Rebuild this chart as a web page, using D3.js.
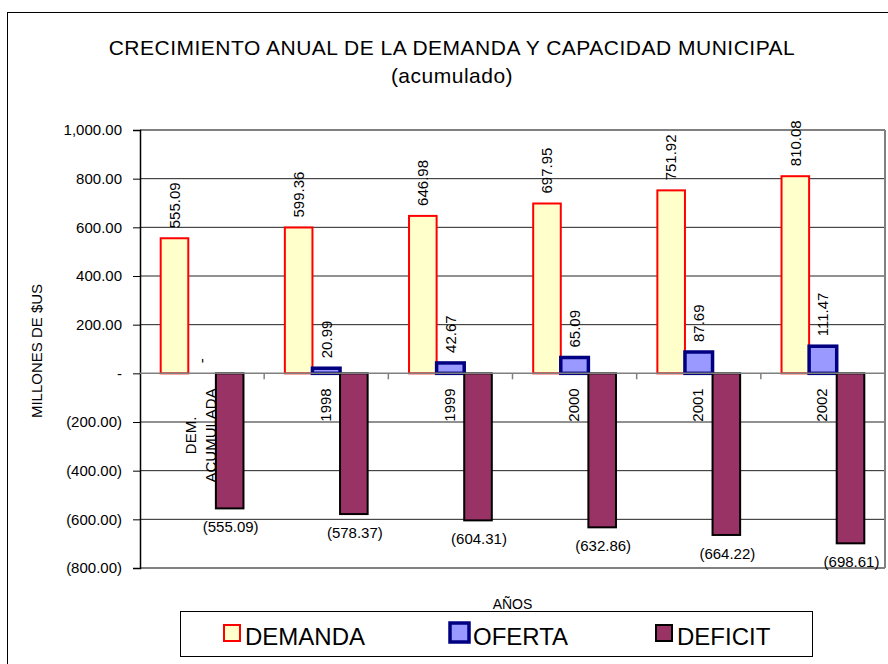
<!DOCTYPE html>
<html>
<head>
<meta charset="utf-8">
<script src="https://cdn.jsdelivr.net/npm/d3@7"></script>
<style>
  body { margin: 0; background: #fff; }
  text { font-family: Arial, "Liberation Sans", sans-serif; fill: #000; }
</style>
</head>
<body>
<div id="chart"></div>
<script>
const categories = ["DEM. ACUMULADA", "1998", "1999", "2000", "2001", "2002"];
const seriesNames = ["DEMANDA", "OFERTA", "DEFICIT"];
const demanda = [555.09, 599.36, 646.98, 697.95, 751.92, 810.08];
const oferta = [0, 20.99, 42.67, 65.09, 87.69, 111.47];
const deficit = [-555.09, -578.37, -604.31, -632.86, -664.22, -698.61];
const yTicks = [1000, 800, 600, 400, 200, 0, -200, -400, -600, -800];

const styles = {
  DEMANDA: { fill: "#ffffcc", stroke: "#ff0000", sw: 2 },
  OFERTA: { fill: "#9999ff", stroke: "#000080", sw: 3.5 },
  DEFICIT: { fill: "#993366", stroke: "#000000", sw: 2 }
};

const values = { DEMANDA: demanda, OFERTA: oferta, DEFICIT: deficit };

const W = 888, H = 664;
const plotL = 140, plotR = 885, plotT = 130, plotB = 568;

const fmt2 = d3.format(",.2f");
function acc(v) {
  if (v === 0) return "-";
  return v < 0 ? "(" + fmt2(-v) + ")" : fmt2(v);
}

const svg = d3.select("#chart").append("svg")
  .attr("width", W)
  .attr("height", H);

// outer chart border
svg.append("rect")
  .attr("x", 7.5).attr("y", 12.5)
  .attr("width", 900).attr("height", 700)
  .attr("fill", "none").attr("stroke", "#000").attr("stroke-width", 1);

// titles
svg.append("text")
  .attr("x", 452).attr("y", 55)
  .attr("text-anchor", "middle")
  .style("font-size", "21px")
  .style("letter-spacing", "0.5px")
  .text("CRECIMIENTO ANUAL DE LA DEMANDA Y CAPACIDAD MUNICIPAL");
svg.append("text")
  .attr("x", 452).attr("y", 83)
  .attr("text-anchor", "middle")
  .style("font-size", "21px")
  .style("letter-spacing", "0.5px")
  .text("(acumulado)");

const x0 = d3.scaleBand()
  .domain(categories)
  .range([plotL, plotR])
  .paddingInner(1 / 3)
  .paddingOuter(1 / 6);

const x1 = d3.scaleBand()
  .domain(seriesNames)
  .range([0, x0.bandwidth()]);

const y = d3.scaleLinear()
  .domain([-800, 1000])
  .range([plotB, plotT]);

// gridlines
svg.append("g")
  .selectAll("line")
  .data(yTicks.filter(t => t !== 1000 && t !== -800 && t !== 0))
  .enter().append("line")
  .attr("x1", plotL).attr("x2", plotR)
  .attr("y1", d => y(d)).attr("y2", d => y(d))
  .attr("stroke", "#222").attr("stroke-width", 1);

// plot area border lines (top, bottom, right) in gray
svg.append("line")
  .attr("x1", plotL).attr("x2", plotR)
  .attr("y1", y(1000)).attr("y2", y(1000))
  .attr("stroke", "#808080").attr("stroke-width", 2);
svg.append("line")
  .attr("x1", plotL).attr("x2", plotR)
  .attr("y1", y(-800)).attr("y2", y(-800))
  .attr("stroke", "#808080").attr("stroke-width", 2);
svg.append("line")
  .attr("x1", plotR).attr("x2", plotR)
  .attr("y1", y(1000)).attr("y2", y(-800))
  .attr("stroke", "#808080").attr("stroke-width", 2);

// y axis
const yAxis = svg.append("g")
  .attr("transform", `translate(${plotL},0)`)
  .call(d3.axisLeft(y).tickValues(yTicks).tickFormat(acc).tickSize(7).tickPadding(11));
yAxis.select(".domain").attr("stroke", "#000").attr("stroke-width", 1.5);
yAxis.selectAll(".tick line").attr("stroke", "#000");
yAxis.selectAll("text")
  .style("font-size", "15px")
  .style("font-family", "Arial, 'Liberation Sans', sans-serif");

svg.append("text")
  .attr("transform", "translate(42,351) rotate(-90)")
  .attr("text-anchor", "middle")
  .style("font-size", "15px")
  .text("MILLONES DE $US");

// bars
seriesNames.forEach(name => {
  const st = styles[name];
  svg.append("g")
    .selectAll("rect")
    .data(values[name].map((v, i) => ({ cat: categories[i], v: v })))
    .enter().append("rect")
    .attr("x", d => x0(d.cat) + x1(name))
    .attr("width", x1.bandwidth())
    .attr("y", d => y(Math.max(0, d.v)))
    .attr("height", d => Math.abs(y(d.v) - y(0)))
    .attr("fill", st.fill)
    .attr("stroke", st.stroke)
    .attr("stroke-width", st.sw)
    .style("display", d => d.v === 0 ? "none" : null);
});

// zero / category axis line with ticks
svg.append("line")
  .attr("x1", plotL).attr("x2", plotR)
  .attr("y1", y(0)).attr("y2", y(0))
  .attr("stroke", "#808080").attr("stroke-width", 1.5);
const boundaries = categories.map(c => x0(c) - x0.step() * x0.paddingInner() / 2).slice(1);
svg.append("g")
  .selectAll("line")
  .data(boundaries)
  .enter().append("line")
  .attr("x1", d => d).attr("x2", d => d)
  .attr("y1", y(0)).attr("y2", y(0) + 6)
  .attr("stroke", "#808080").attr("stroke-width", 1.5);

// value labels: DEMANDA and OFERTA rotated above bars
["DEMANDA", "OFERTA"].forEach(name => {
  values[name].forEach((v, i) => {
    const cx = x0(categories[i]) + x1(name) + x1.bandwidth() / 2;
    svg.append("text")
      .attr("transform", `translate(${cx},${y(v) - 10}) rotate(-90)`)
      .attr("dy", "0.35em")
      .attr("text-anchor", "start")
      .style("font-size", "15px")
      .text(acc(v));
  });
});

// DEFICIT labels below bars
deficit.forEach((v, i) => {
  const cx = x0(categories[i]) + x1("DEFICIT") + x1.bandwidth() / 2;
  svg.append("text")
    .attr("x", cx + 1)
    .attr("y", y(v) + 24)
    .attr("text-anchor", "middle")
    .style("font-size", "15px")
    .text(acc(v));
});

// category labels (rotated, under zero line)
categories.forEach(c => {
  const lines = c.split(" ");
  const cx = x0(c) + x0.bandwidth() / 2;
  const t = svg.append("text")
    .attr("text-anchor", "middle")
    .style("font-size", "15px");
  const lh = 20;
  lines.forEach((ln, j) => {
    t.append("tspan")
      .attr("x", 0)
      .attr("y", (j - (lines.length - 1) / 2) * lh)
      .attr("dy", "0.35em")
      .text(ln);
  });
  let maxLen = 0;
  t.selectAll("tspan").each(function () {
    maxLen = Math.max(maxLen, this.getComputedTextLength());
  });
  t.attr("transform", `translate(${cx - 1},${y(0) + 15 + maxLen / 2}) rotate(-90)`);
});

// x axis title
svg.append("text")
  .attr("x", (plotL + plotR) / 2)
  .attr("y", 609)
  .attr("text-anchor", "middle")
  .style("font-size", "14px")
  .text("AÑOS");

// legend
const legend = svg.append("g");
legend.append("rect")
  .attr("x", 180.5).attr("y", 611.5)
  .attr("width", 632).attr("height", 45)
  .attr("fill", "#fff").attr("stroke", "#000").attr("stroke-width", 1);

const legendX = [224, 450, 656];
seriesNames.forEach((name, i) => {
  const st = styles[name];
  legend.append("rect")
    .attr("x", legendX[i]).attr("y", name === "OFERTA" ? 623 : 625)
    .attr("width", name === "OFERTA" ? 19 : 16)
    .attr("height", name === "OFERTA" ? 19 : 16)
    .attr("fill", st.fill)
    .attr("stroke", st.stroke)
    .attr("stroke-width", st.sw);
  legend.append("text")
    .attr("x", legendX[i] + (name === "OFERTA" ? 23 : 21))
    .attr("y", 645)
    .style("font-size", "24px")
    .text(name);
});
</script>
</body>
</html>
